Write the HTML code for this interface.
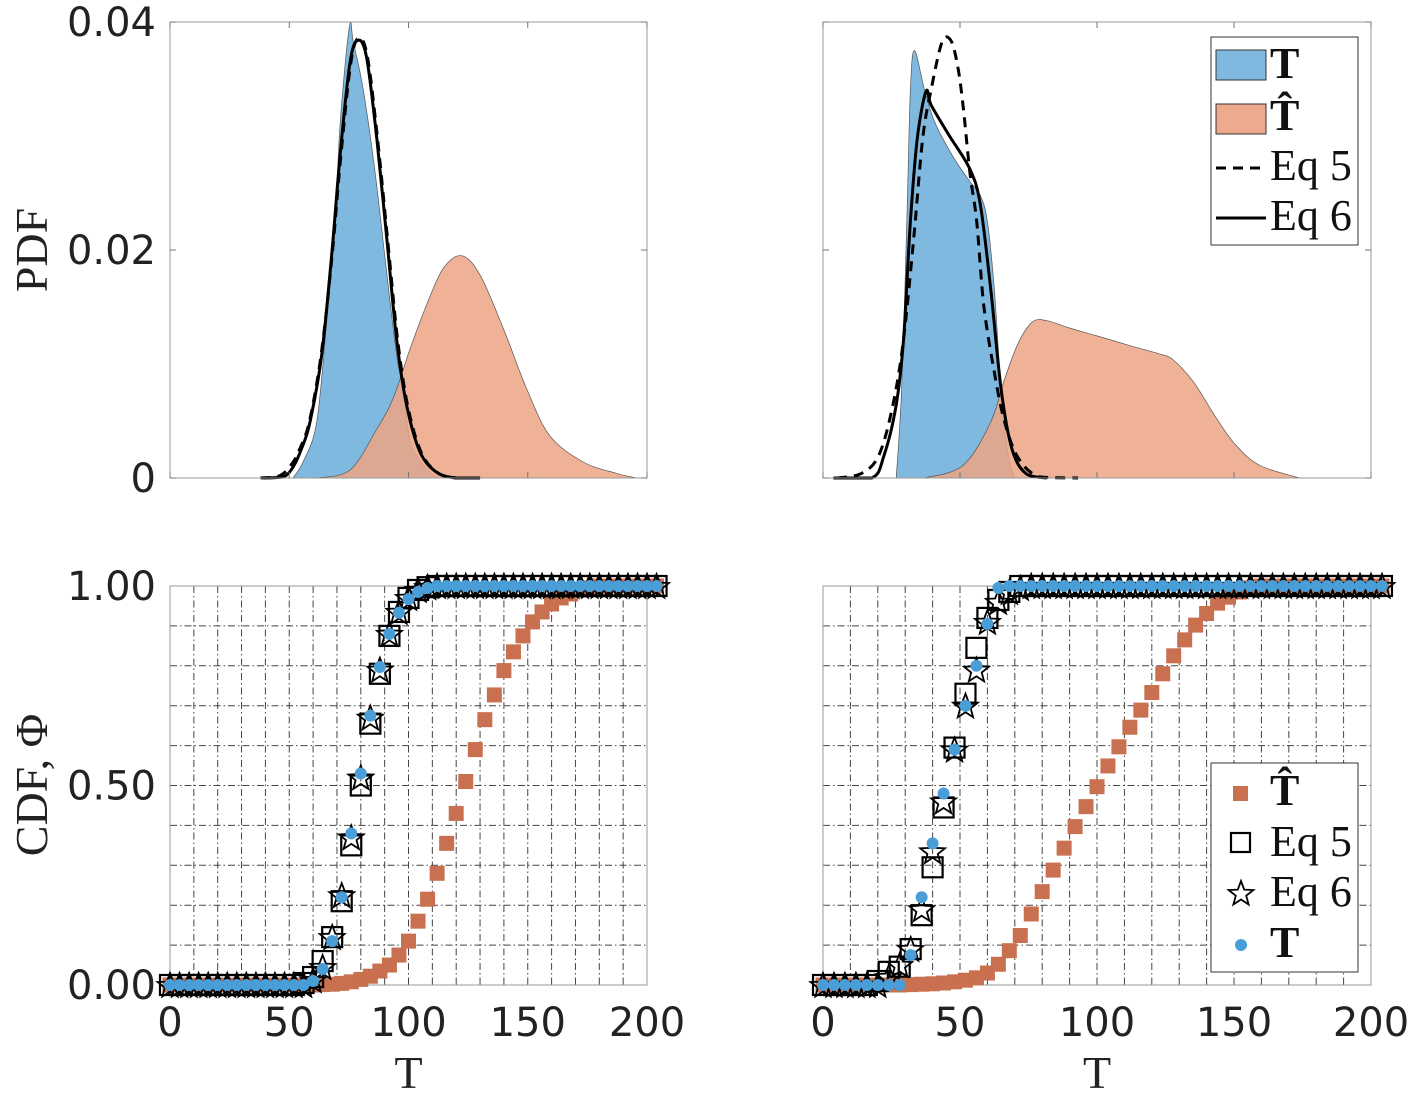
<!DOCTYPE html>
<html><head><meta charset="utf-8"><style>
html,body{margin:0;padding:0;background:#fff;}
svg text{font-family:"DejaVu Sans","Liberation Sans",sans-serif;}
.serif{font-family:"Liberation Serif","DejaVu Serif",serif !important;}
</style></head><body>
<svg id="fig" width="1418" height="1098" viewBox="0 0 1418 1098" xmlns="http://www.w3.org/2000/svg"></svg>
<script>
// ---------- PDF data (top panels) ----------
const tlBlueT=[51.6,56,61.5,65.7,69.2,71.3,75.2,76.9,81,86,90.8,95,97.1,100.6,104,107.6,111.8];
const tlBlueV=[0,0.0015,0.0049,0.0137,0.0225,0.031,0.0396,0.0382,0.0341,0.0268,0.0181,0.0108,0.0084,0.0034,0.0018,0.0008,0];
const tlOrT=[61.5,75.5,86.7,93.6,100.6,107.6,114.6,122.3,130,139.8,149.6,159.3,173.3,187.3,195.7];
const tlOrV=[0,0.0007,0.0043,0.007,0.0113,0.0152,0.0184,0.0195,0.0178,0.0131,0.0078,0.0037,0.0014,0.0004,0];
const tlEq5T=[38,46,51,54.5,58.5,63.5,68,71.6,75.8,79.2,82.8,87,91.2,95.4,99.6,105.2,112,120,128];
const tlEq5V=[0,0.0002,0.0012,0.0026,0.005,0.011,0.0196,0.0282,0.0364,0.0386,0.0369,0.0298,0.021,0.0122,0.0064,0.0023,0.0005,0,0];
const tlEq6T=[39.1,47.5,51.7,55,58.7,63.6,67.8,71.3,75.5,79,82.5,86.7,90.9,95,99.2,104.8,111.8,120,130];
const tlEq6V=[0,0.0001,0.001,0.0025,0.0049,0.0108,0.0196,0.0283,0.0365,0.0384,0.0368,0.0298,0.021,0.0122,0.0064,0.0023,0.0005,0,0];

const trBlueT=[26.7,28.7,30.6,31.9,33.4,37.0,40.8,47.2,53.6,57.4,60.0,62.5,65.0,67.6,70.0];
const trBlueV=[0,0.0078,0.0225,0.0341,0.0375,0.0341,0.0312,0.0283,0.026,0.0248,0.0225,0.0166,0.0078,0.002,0];
const trOrT=[37.0,51.1,61.2,66.3,71.4,76.5,81.7,89.3,99.5,112.2,122.5,127.6,135.3,142.9,150.6,159.5,174];
const trOrV=[0,0.0011,0.0049,0.0087,0.0119,0.0137,0.0138,0.0132,0.0125,0.0116,0.0109,0.0104,0.0084,0.0055,0.0029,0.0011,0];
const trEq5T=[5.1,14.0,20.4,25.5,29.4,33.1,36.4,39.5,43.4,46.6,49.1,51.1,53.6,56.1,58.7,62.5,66.3,71.4,79.1,93.1];
const trEq5V=[0,0.0004,0.002,0.0064,0.0122,0.021,0.0298,0.0341,0.0382,0.0384,0.0362,0.0327,0.0268,0.0225,0.0151,0.0093,0.0049,0.0017,0.0001,0];
const trEq6T=[3.8,17.8,22.3,26.7,29.4,31.9,34.4,37.6,39.5,45.9,53.6,57.4,61.2,65.0,68.9,74.0,81.7];
const trEq6V=[0,0,0.002,0.0064,0.0122,0.0225,0.0298,0.0339,0.0327,0.0301,0.0271,0.024,0.0166,0.0078,0.0026,0.0004,0];

// ---------- CDF data (bottom panels) ----------
const cdfT=[0,4,8,12,16,20,24,28,32,36,40,44,48,52,56,60,64,68,72,76,80,84,88,92,96,100,104,108,112,116,120,124,128,132,136,140,144,148,152,156,160,164,168,172,176,180,184,188,192,196,200,204];
const blBlue=[0,0,0,0,0,0,0,0,0,0,0,0,0,0,0,0.01,0.04,0.11,0.22,0.38,0.53,0.675,0.797,0.88,0.933,0.967,0.985,0.995,1,1,1,1,1,1,1,1,1,1,1,1,1,1,1,1,1,1,1,1,1,1,1,1];
const blEq5=[0,0,0,0,0,0,0,0,0,0,0,0,0,0,0.005,0.02,0.06,0.12,0.21,0.35,0.50,0.655,0.78,0.875,0.935,0.97,0.99,0.997,1,1,1,1,1,1,1,1,1,1,1,1,1,1,1,1,1,1,1,1,1,1,1,1];
const blEq6=[0,0,0,0,0,0,0,0,0,0,0,0,0,0,0,0.012,0.045,0.12,0.225,0.37,0.52,0.67,0.79,0.88,0.935,0.97,0.99,0.997,1,1,1,1,1,1,1,1,1,1,1,1,1,1,1,1,1,1,1,1,1,1,1,1];
const blHat=[0,0,0,0,0,0,0,0,0,0,0,0,0,0,0,0,0.001,0.002,0.004,0.008,0.014,0.022,0.035,0.05,0.075,0.11,0.16,0.215,0.28,0.355,0.43,0.51,0.59,0.665,0.727,0.788,0.835,0.875,0.91,0.935,0.955,0.97,0.98,0.99,0.995,1,1,1,1,1,1,1];
const brBlue=[0,0,0,0,0,0,0,0,0.075,0.22,0.355,0.48,0.59,0.70,0.80,0.905,0.995,1,1,1,1,1,1,1,1,1,1,1,1,1,1,1,1,1,1,1,1,1,1,1,1,1,1,1,1,1,1,1,1,1,1,1];
const brEq5=[0,0,0,0,0,0.01,0.033,0.046,0.09,0.175,0.295,0.445,0.595,0.73,0.845,0.92,0.965,0.985,1,1,1,1,1,1,1,1,1,1,1,1,1,1,1,1,1,1,1,1,1,1,1,1,1,1,1,1,1,1,1,1,1,1];
const brEq6=[0,0,0,0,0,0,0.02,0.05,0.09,0.19,0.335,0.46,0.59,0.70,0.79,0.91,0.96,0.985,0.995,1,1,1,1,1,1,1,1,1,1,1,1,1,1,1,1,1,1,1,1,1,1,1,1,1,1,1,1,1,1,1,1,1];
const brHat=[0,0,0,0,0,0,0,0,0.001,0.002,0.003,0.005,0.008,0.012,0.018,0.03,0.052,0.086,0.124,0.178,0.234,0.288,0.343,0.397,0.447,0.497,0.549,0.597,0.646,0.689,0.733,0.78,0.825,0.865,0.902,0.931,0.957,0.972,0.985,0.995,1,1,1,1,1,1,1,1,1,1,1,1];

const xTicks=[0,50,100,150,200];
const xTickLabels=["0","50","100","150","200"];
const pdfTicks=[0,0.02,0.04];
const pdfTickLabels=["0","0.02","0.04"];
const cdfTicks=[0,0.5,1];
const cdfTickLabels=["0.00","0.50","1.00"];

const NS="http://www.w3.org/2000/svg";
const svg=document.getElementById('fig');
function mk(tag,attrs,parent){const e=document.createElementNS(NS,tag);for(const k in attrs)e.setAttribute(k,attrs[k]);(parent||svg).appendChild(e);return e;}

function axes(x0,x1,y0,y1,ymax){
  return {x:t=>x0+(t/200)*(x1-x0), y:v=>y1-(v/ymax)*(y1-y0), x0,x1,y0,y1};
}
const TL=axes(170,647,22,478,0.04), TR=axes(823,1371,22,478,0.04);
const BL=axes(170,647,586,985,1), BR=axes(823,1371,586,985,1);

function smoothPath(ax,T,V){
  const p=T.map((t,i)=>[ax.x(t),ax.y(V[i])]);
  let d='M'+p[0][0].toFixed(1)+','+p[0][1].toFixed(1);
  for(let i=0;i<p.length-1;i++){
    const a=p[Math.max(0,i-1)],b=p[i],c=p[i+1],e=p[Math.min(p.length-1,i+2)];
    const c1=[b[0]+(c[0]-a[0])/6,b[1]+(c[1]-a[1])/6],c2=[c[0]-(e[0]-b[0])/6,c[1]-(e[1]-b[1])/6];
    d+=' C'+c1[0].toFixed(1)+','+Math.min(c1[1],ax.y1).toFixed(1)+' '+c2[0].toFixed(1)+','+Math.min(c2[1],ax.y1).toFixed(1)+' '+c[0].toFixed(1)+','+c[1].toFixed(1);
  }
  return d;
}

function drawPdfPanel(ax,name,blueT,blueV,orT,orV,e5T,e5V,e6T,e6V,showYLabels){
  const g=mk('g',{});
  
  
  const bl=mk('path',{d:smoothPath(ax,blueT,blueV)+' Z',fill:'rgb(128,185,224)',stroke:'#555','stroke-width':0.7},g);
  
  
  const orr=mk('path',{d:smoothPath(ax,orT,orV)+' Z',fill:'rgb(236,164,132)','fill-opacity':0.85,stroke:'#555','stroke-width':0.7},g);
  
  
  const l5=mk('path',{d:smoothPath(ax,e5T,e5V),fill:'none',stroke:'#000','stroke-width':3,'stroke-dasharray':'10,7'},g);
  
  
  const l6=mk('path',{d:smoothPath(ax,e6T,e6V),fill:'none',stroke:'#000','stroke-width':3},g);
  
  
  const box=mk('rect',{x:ax.x0,y:ax.y0,width:ax.x1-ax.x0,height:ax.y1-ax.y0,fill:'none',stroke:'#999','stroke-width':1},g);
  
  
  xTicks.forEach(t=>{
    mk('line',{x1:ax.x(t),x2:ax.x(t),y1:ax.y0,y2:ax.y0+6,stroke:'#777'},g);
    mk('line',{x1:ax.x(t),x2:ax.x(t),y1:ax.y1,y2:ax.y1-6,stroke:'#777'},g);
  });
  pdfTicks.forEach((v,i)=>{
    mk('line',{x1:ax.x0,x2:ax.x0+6,y1:ax.y(v),y2:ax.y(v),stroke:'#777'},g);
    mk('line',{x1:ax.x1,x2:ax.x1-6,y1:ax.y(v),y2:ax.y(v),stroke:'#777'},g);
    if(showYLabels){
      const t=mk('text',{x:ax.x0-14,y:ax.y(v)+14,'text-anchor':'end','font-size':40,fill:'#222'},g);
      t.textContent=pdfTickLabels[i];
      
      
    }
  });
}

function starPts(cx,cy,R,r){let s=[];for(let k=0;k<10;k++){const a=-Math.PI/2+k*Math.PI/5;const rr=k%2?r:R;s.push((cx+rr*Math.cos(a)).toFixed(1)+','+(cy+rr*Math.sin(a)).toFixed(1));}return s.join(' ');}

function drawCdfPanel(ax,name,hat,e5,e6,blue,showYLabels){
  const g=mk('g',{});
  
  
  for(let t=10;t<200;t+=10){
    mk('line',{x1:ax.x(t),x2:ax.x(t),y1:ax.y0,y2:ax.y1,stroke:'#444','stroke-width':1,'stroke-dasharray':'7,3,1.5,3'},g);}
  for(let v=0.1;v<0.99;v+=0.1){
    mk('line',{x1:ax.x0,x2:ax.x1,y1:ax.y(v),y2:ax.y(v),stroke:'#444','stroke-width':1,'stroke-dasharray':'7,3,1.5,3'},g);}
  const box=mk('rect',{x:ax.x0,y:ax.y0,width:ax.x1-ax.x0,height:ax.y1-ax.y0,fill:'none',stroke:'#999','stroke-width':1},g);
  
  
  cdfT.forEach((t,i)=>{
    const m=mk('rect',{x:ax.x(t)-7.5,y:ax.y(hat[i])-7.5,width:15,height:15,fill:'#c8704f'},g);
    
    
  });
  cdfT.forEach((t,i)=>{
    const m=mk('rect',{x:ax.x(t)-10,y:ax.y(e5[i])-10,width:20,height:20,fill:'none',stroke:'#000','stroke-width':2.2},g);
    
    
  });
  cdfT.forEach((t,i)=>{
    const m=mk('polygon',{points:starPts(ax.x(t),ax.y(e6[i])+1,13,5.5),fill:'none',stroke:'#000','stroke-width':1.8},g);
    
    
  });
  cdfT.forEach((t,i)=>{
    const m=mk('circle',{cx:ax.x(t),cy:ax.y(blue[i]),r:6,fill:'#4a9ed8'},g);
    
    
  });
  xTicks.forEach((t,i)=>{
    const l=mk('text',{x:ax.x(t),y:1036,'text-anchor':'middle','font-size':40,fill:'#222'},g);
    l.textContent=xTickLabels[i];
    
    
  });
  if(showYLabels) cdfTicks.forEach((v,i)=>{
    const l=mk('text',{x:ax.x0-14,y:ax.y(v)+14,'text-anchor':'end','font-size':40,fill:'#222'},g);
    l.textContent=cdfTickLabels[i];
    
    
  });
  const xl=mk('text',{x:(ax.x0+ax.x1)/2,y:1088,'text-anchor':'middle','font-size':46,fill:'#222',class:'serif'},g);
  xl.textContent='T';
  
  
}

drawPdfPanel(TL,'pdf-panel-left',tlBlueT,tlBlueV,tlOrT,tlOrV,tlEq5T,tlEq5V,tlEq6T,tlEq6V,true);
drawPdfPanel(TR,'pdf-panel-right',trBlueT,trBlueV,trOrT,trOrV,trEq5T,trEq5V,trEq6T,trEq6V,false);
drawCdfPanel(BL,'cdf-panel-left',blHat,blEq5,blEq6,blBlue,true);
drawCdfPanel(BR,'cdf-panel-right',brHat,brEq5,brEq6,brBlue,false);

const yl1=mk('text',{x:0,y:0,transform:'translate(47,250) rotate(-90)','text-anchor':'middle','font-size':46,fill:'#222',class:'serif'});
yl1.textContent='PDF';


const yl2=mk('text',{x:0,y:0,transform:'translate(47,785) rotate(-90)','text-anchor':'middle','font-size':46,fill:'#222',class:'serif'});
yl2.textContent='CDF, Φ';



const lg1=mk('g',{});


mk('rect',{x:1211,y:37,width:147,height:208,fill:'#fff',stroke:'#333','stroke-width':1},lg1);
mk('rect',{x:1216,y:50,width:50,height:30,fill:'rgb(128,185,224)',stroke:'#333'},lg1);
mk('rect',{x:1216,y:104,width:50,height:30,fill:'rgb(238,170,140)',stroke:'#333'},lg1);
mk('line',{x1:1216,x2:1266,y1:168,y2:168,stroke:'#000','stroke-width':3,'stroke-dasharray':'10,7'},lg1);
mk('line',{x1:1216,x2:1266,y1:218,y2:218,stroke:'#000','stroke-width':3},lg1);
[['T',78,true],['T̂',130,true],['Eq 5',180,false],['Eq 6',230,false]].forEach(([s,y,b])=>{
  const t=mk('text',{x:1270,y:y,'font-size':44,'font-weight':b?'bold':'normal',fill:'#111',class:'serif'},lg1);
  t.textContent=s;
  
  
});

const lg2=mk('g',{});


mk('rect',{x:1211,y:763,width:147,height:209,fill:'#fff',stroke:'#333','stroke-width':1},lg2);
mk('rect',{x:1233,y:786,width:15,height:15,fill:'#c8704f'},lg2);
mk('rect',{x:1231,y:833,width:19,height:19,fill:'none',stroke:'#000','stroke-width':2.2},lg2);
mk('polygon',{points:starPts(1241,894,13,5.5),fill:'none',stroke:'#000','stroke-width':1.8},lg2);
mk('circle',{cx:1241,cy:945,r:6,fill:'#4a9ed8'},lg2);
[['T̂',805,true],['Eq 5',856,false],['Eq 6',906,false],['T',957,true]].forEach(([s,y,b])=>{
  const t=mk('text',{x:1270,y:y,'font-size':44,'font-weight':b?'bold':'normal',fill:'#111',class:'serif'},lg2);
  t.textContent=s;
  
  
});
</script>
</body></html>
